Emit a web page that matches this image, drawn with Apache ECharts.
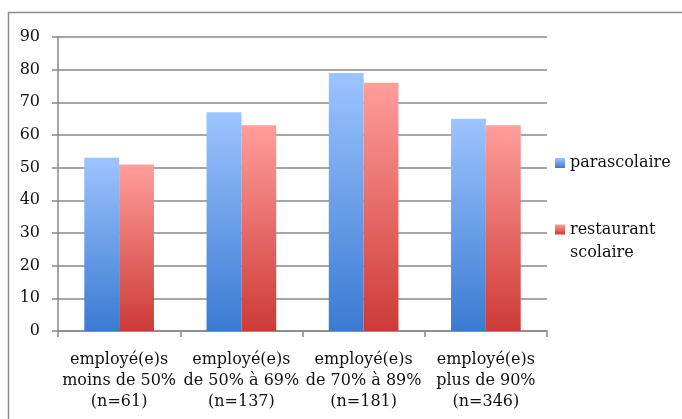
<!DOCTYPE html>
<html><head><meta charset="utf-8">
<script src="https://cdn.jsdelivr.net/npm/echarts@6/dist/echarts.min.js"></script>
<style>html,body{margin:0;padding:0;background:#fff}#c{width:682px;height:419px}</style>
</head><body><div id="c"></div>
<script>
const categories = ['employé(e)s\nmoins de 50%\n(n=61)', 'employé(e)s\nde 50% à 69%\n(n=137)', 'employé(e)s\nde 70% à 89%\n(n=181)', 'employé(e)s\nplus de 90%\n(n=346)'];
const seriesNames = ['parascolaire', 'restaurant scolaire'];
const parascolaire = [53, 67, 79, 65];
const restaurant = [51, 63, 76, 63];

const font = 'DejaVu Serif';
const grad = (top, bottom) => new echarts.graphic.LinearGradient(0, 0, 0, 1, [{offset: 0, color: top}, {offset: 1, color: bottom}]);
const chart = echarts.init(document.getElementById('c'));
chart.setOption({
  animation: false,
  graphic: [{type: 'rect', shape: {x: 8.5, y: 12.5, width: 700, height: 450}, style: {fill: 'none', stroke: '#8c8c8c', lineWidth: 1.5}, silent: true}],
  grid: {left: 58, top: 37, right: 135, bottom: 88},
  legend: [
    {data: [seriesNames[0]], orient: 'vertical', left: 555, top: 155, padding: 0, itemWidth: 10, itemHeight: 10, icon: 'rect',
     textStyle: {fontFamily: font, fontSize: 16, color: '#111'}},
    {data: [seriesNames[1]], orient: 'vertical', left: 555, top: 195, padding: 0, itemWidth: 10, itemHeight: 10, icon: 'rect',
     formatter: n => '\n' + n.replace(' ', '\n'),
     textStyle: {fontFamily: font, fontSize: 16, color: '#111', lineHeight: 23}}
  ],
  xAxis: {type: 'category', data: categories,
    axisLine: {lineStyle: {color: '#888', width: 1.5}},
    axisTick: {show: true, length: 6, lineStyle: {color: '#888', width: 1.5}},
    axisLabel: {fontFamily: font, fontSize: 16, color: '#111', lineHeight: 21, margin: 18, interval: 0}},
  yAxis: {type: 'value', min: 0, max: 90, interval: 10,
    axisLine: {show: true, lineStyle: {color: '#888', width: 1.5}},
    axisTick: {show: true, length: 6, lineStyle: {color: '#888', width: 1.5}},
    axisLabel: {fontFamily: font, fontSize: 16, color: '#111', margin: 18},
    splitLine: {lineStyle: {color: '#888', width: 1.5}}},
  series: [
    {name: seriesNames[0], type: 'bar', data: parascolaire, barGap: '0%', barCategoryGap: '43%',
     itemStyle: {color: grad('#9dc4ff', '#3a7bd2')}},
    {name: seriesNames[1], type: 'bar', data: restaurant, barGap: '0%', barCategoryGap: '43%',
     itemStyle: {color: grad('#ff9e9b', '#cd3a36')}}
  ]
});
</script></body></html>
